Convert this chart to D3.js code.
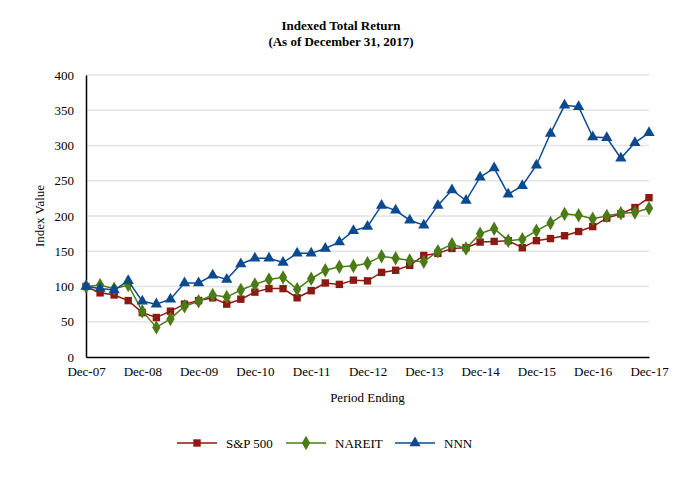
<!DOCTYPE html>
<html>
<head>
<meta charset="utf-8">
<script src="https://cdn.jsdelivr.net/npm/d3@7"></script>
<style>
  body { margin: 0; background: #fff; }
  svg text { font-family: 'Liberation Serif', 'Times New Roman', Times, serif !important; fill: #000; }
</style>
</head>
<body>
<div id="root"></div>
<script>
// quarterly periods, Dec-07 .. Dec-17
const periods = d3.range(41);
const tickLabels = ['Dec-07', 'Dec-08', 'Dec-09', 'Dec-10', 'Dec-11', 'Dec-12',
    'Dec-13', 'Dec-14', 'Dec-15', 'Dec-16', 'Dec-17'];

const sp500 = [100, 91, 88, 80, 63, 56, 65, 75, 80, 84, 75, 82, 92, 97, 97, 84,
    94, 105, 103, 109, 108, 120, 123, 130, 144, 147, 154, 155, 163, 164, 165, 155,
    165, 168, 172, 178, 185, 197, 203, 212, 226];
const nareit = [100, 102, 97, 102, 65, 42, 54, 72, 79, 88, 85, 95, 103, 110, 113, 96,
    111, 123, 128, 129, 133, 143, 140, 137, 135, 150, 160, 154, 175, 182, 165, 167,
    179, 190, 203, 201, 196, 200, 204, 205, 211];
const nnn = [100, 97, 95, 108, 79, 75, 82, 105, 105, 116, 110, 132, 140, 140, 134, 147,
    147, 154, 163, 179, 185, 215, 208, 194, 187, 215, 237, 222, 255, 268, 231, 243,
    272, 317, 357, 355, 312, 311, 282, 304, 318];

const series = [
    { name: 'S&P 500', values: sp500, color: '#8c1a14', symbol: d3.symbolSquare, size: 55 },
    { name: 'NAREIT', values: nareit, color: '#4b7b16', symbol: d3.symbolDiamond, size: 60 },
    { name: 'NNN', values: nnn, color: '#0c4a90', symbol: d3.symbolTriangle, size: 55 },
];

const width = 682;
const height = 480;
const margin = { top: 75, right: 33, bottom: 123, left: 86 };

const svg = d3.select('#root')
    .append('svg')
        .attr('width', width)
        .attr('height', height);

const x = d3.scaleLinear()
    .domain([0, 40])
    .range([margin.left, width - margin.right]);
const y = d3.scaleLinear()
    .domain([0, 400])
    .range([height - margin.bottom, margin.top]);

// title
svg.append('text')
    .attr('x', 341).attr('y', 30)
    .attr('text-anchor', 'middle')
    .attr('font-weight', 'bold')
    .attr('font-size', 13)
    .text('Indexed Total Return');
svg.append('text')
    .attr('x', 341).attr('y', 46)
    .attr('text-anchor', 'middle')
    .attr('font-weight', 'bold')
    .attr('font-size', 13)
    .text('(As of December 31, 2017)');

// gridlines
svg.append('g')
    .selectAll('line')
    .data(y.ticks(8).filter(d => d > 0))
    .enter()
    .append('line')
        .attr('x1', x(0)).attr('x2', x(40))
        .attr('y1', d => y(d)).attr('y2', d => y(d))
        .attr('stroke', '#e3e3e3')
        .attr('stroke-width', 1.5);

// y axis
const yAxis = svg.append('g')
    .attr('transform', `translate(${x(0)}, 0)`)
    .call(d3.axisLeft(y).ticks(8).tickSize(0).tickPadding(12));
yAxis.select('.domain').attr('stroke', '#000').attr('stroke-width', 1.5);
yAxis.selectAll('text').attr('font-size', 13);

// x axis
const xAxis = svg.append('g')
    .attr('transform', `translate(0, ${y(0)})`)
    .call(d3.axisBottom(x)
        .tickValues(d3.range(0, 41, 4))
        .tickFormat((d, i) => tickLabels[i])
        .tickSize(0).tickPadding(10));
xAxis.select('.domain').attr('stroke', '#000').attr('stroke-width', 1.5);
xAxis.selectAll('text').attr('font-size', 13);

// axis titles
svg.append('text')
    .attr('x', x(20)).attr('y', 402)
    .attr('text-anchor', 'middle')
    .attr('font-size', 13)
    .text('Period Ending');
svg.append('text')
    .attr('transform', `translate(44, ${y(200)}) rotate(-90)`)
    .attr('text-anchor', 'middle')
    .attr('font-size', 13)
    .text('Index Value');

const line = d3.line()
    .x((d, i) => x(periods[i]))
    .y(d => y(d));

series.forEach(s => {
    const g = svg.append('g');
    g.append('path')
        .datum(s.values)
        .attr('d', line)
        .attr('fill', 'none')
        .attr('stroke', s.color)
        .attr('stroke-width', 1.5);
    g.selectAll('path.pt')
        .data(s.values)
        .enter()
        .append('path')
            .attr('class', 'pt')
            .attr('transform', (d, i) => `translate(${x(periods[i])}, ${y(d)})`)
            .attr('d', d3.symbol().type(s.symbol).size(s.size))
            .attr('fill', s.color);
});

// legend
const legendX = [177, 286, 395];
const legend = svg.append('g')
    .selectAll('g')
    .data(series)
    .enter()
    .append('g')
        .attr('transform', (d, i) => `translate(${legendX[i]}, 443)`);
legend.append('line')
    .attr('x1', 0).attr('x2', 40)
    .attr('stroke', d => d.color)
    .attr('stroke-width', 1.5);
legend.append('path')
    .attr('transform', 'translate(20, 0)')
    .attr('d', d => d3.symbol().type(d.symbol).size(d.size)())
    .attr('fill', d => d.color);
legend.append('text')
    .attr('x', 49).attr('y', 4.5)
    .attr('font-size', 13)
    .text(d => d.name);
</script>
</body>
</html>
